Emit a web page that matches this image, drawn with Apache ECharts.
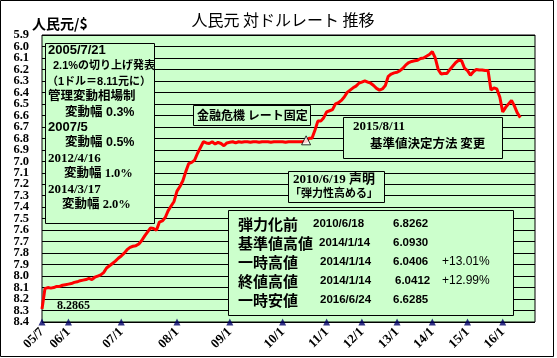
<!DOCTYPE html>
<html><head><meta charset="utf-8">
<script src="https://cdn.jsdelivr.net/npm/echarts@6/dist/echarts.min.js"></script>
<style>html,body{margin:0;padding:0;background:#fff}#c{width:557px;height:358px}</style>
</head><body><div id="c"></div>
<script>
// ---- data ----
const rateEarly = [8.2865,8.11,8.10,8.105,8.10,8.09,8.09,8.08,8.075,8.07,
  8.065,8.055,8.05,8.04,8.035,8.03,8.02,8.03,8.01,8.00,
  7.99,7.97,7.93,7.91,7.89,7.87,7.845,7.825,7.80,7.77,
  7.75,7.74,7.735,7.72,7.69,7.65,7.615,7.58,7.585,7.60,
  7.53,7.52,7.49,7.43,7.39,7.35,7.26,7.22,7.17,7.09,
  7.02,7.01,6.99,6.93,6.88,6.83,
  6.84,6.845,6.83,6.85,6.835,6.845,6.865,6.84,6.835,6.83,
  6.84,6.83,6.835,6.83,6.83,6.835,6.83,6.83,6.835,6.83,
  6.83,6.83,6.835,6.83,6.83,6.83,6.83,6.835,6.83,6.83,
  6.83,6.83,6.83,6.83,
  6.8262];
const rateLate = [6.80,6.80,6.73,6.65,6.65,6.62,6.57,6.56,6.55,6.50,
  6.49,6.47,6.44,6.40,6.38,6.36,6.345,6.32,6.31,6.30,
  6.31,6.32,6.34,6.365,6.38,6.37,6.34,6.26,6.24,6.23,
  6.225,6.21,6.19,6.16,6.14,6.13,6.125,6.12,6.105,6.10,
  6.085,6.07,6.045,6.10,6.20,6.24,6.235,6.235,6.20,6.17,
  6.14,6.12,6.125,6.19,6.21,6.25,6.22,6.20,6.205,6.205,
  6.21,6.21,6.38,6.36,6.37,6.44,6.57,6.53,6.50,6.47,
  6.52,6.58,6.62];
const tickDates = ['2005/7/1','2006/1/1','2007/1/1','2008/1/1','2009/1/1','2010/1/1','2011/1/1','2012/1/1','2013/1/1','2014/1/1','2015/1/1','2016/1/1'];
const tickLabels = ['05/7','06/1','07/1','08/1','09/1','10/1','11/1','12/1','13/1','14/1','15/1','16/1'];
const yMin = 5.9, yMax = 8.4, yStep = 0.1;
const shockDate = '2010/6/19';
const shockValue = 6.8262;
const startLabel = '8.2865';
const titleText = '人民元 対ドルレート 推移';
const unitText = '人民元/$';
const noteLines = ['2005/7/21','2.1%の切り上げ発表','（1ドル＝8.11元に）','管理変動相場制','変動幅 0.3%','2007/5','変動幅 0.5%','2012/4/16','変動幅 1.0%','2014/3/17','変動幅 2.0%'];
const crisisText = '金融危機 レート固定';
const reformLines = ['2015/8/11','基準値決定方法 変更'];
const statementLines = ['2010/6/19 声明','「弾力性高める」'];
const tableLabels = ['弾力化前','基準値高値','一時高値','終値高値','一時安値'];
const tableDates = ['2010/6/18','2014/1/14','2014/1/14','2014/1/14','2016/6/24'];
const tableValues = ['6.8262','6.0930','6.0406','6.0412','6.6285'];
const tablePct = ['','','+13.01%','+12.99%',''];

// ---- categories (sample dates) ----
function fmt(d){return d.getFullYear()+'/'+(d.getMonth()+1)+'/'+d.getDate();}
function parse(s){const p=s.split('/').map(Number);return new Date(p[0],p[1]-1,p[2]);}
const categories = ['2005/7/1'];
for (let k=0;k<89;k++) categories.push(fmt(new Date(2005,6,21+20*k)));
categories.push(shockDate);
for (let m=0;m<78;m++) categories.push(fmt(new Date(2010,6+m,1)));
const rate = rateEarly.concat(rateLate);

const catTimes = categories.map(c=>parse(c).getTime());
const tickIdx = tickDates.map(t=>{
  const tt=parse(t).getTime(); let best=0, bd=Infinity;
  catTimes.forEach((c,i)=>{const d=Math.abs(c-tt); if(d<bd){bd=d;best=i;}});
  return best;
});
const tickMap = new Map(tickIdx.map((i,k)=>[i,tickLabels[k]]));
const shockIdx = categories.indexOf(shockDate);

// ---- layout ----
const CJK = '"Noto Sans CJK JP"';
const SANS = '"Liberation Sans","Noto Sans CJK JP"';
const SERIF = '"Liberation Serif","Noto Sans CJK JP"';
const G = '#ccffcc';
const graphic = [];
function box(x,y,w,h,fill){graphic.push({type:'rect',z:10,shape:{x:x+0.5,y:y+0.5,width:w,height:h},style:{fill:fill,stroke:'#000',lineWidth:1}});}
function txt(t,x,y,font,align){graphic.push({type:'text',z:11,style:{text:t,x:x,y:y,font:font,fill:'#000',textAlign:align||'left',textVerticalAlign:'middle'}});}

box(0,0,553,356,'none');
txt(titleText,283,20,'16px '+CJK,'center');
txt(unitText,32,24,'bold 14px '+CJK);
txt(startLabel,57,306,'bold 12px '+SERIF);

box(45,43,109,180,G);
const noteX=[48,53,47,48,65,48,65,48,64,48,62];
const noteY=[50.7,66,81.5,97,112.5,127.5,143,158.5,174,189.5,205];
const noteF=['bold 13px '+SANS,'bold 11px '+SANS,'bold 11px '+SANS,'bold 12.5px '+SANS,'bold 12.5px '+SANS,'bold 13px '+SANS,'bold 12.5px '+SANS,'bold 13px '+SERIF,'bold 12.5px '+SERIF,'bold 13px '+SERIF,'bold 12.5px '+SERIF];
noteLines.forEach((l,i)=>txt(l,noteX[i],noteY[i],noteF[i]));

box(193,105,117,20,G);
txt(crisisText,197,115,'bold 12px '+CJK);

box(343,117,159,41,G);
txt(reformLines[0],353,127,'bold 13px '+SERIF);
txt(reformLines[1],370,143,'bold 12.5px '+CJK);

box(288,171,96,31,G);
txt(statementLines[0],293,180,'bold 13px '+SERIF);
txt(statementLines[1],290,193,'bold 11px '+CJK);

box(228,210,285,105,G);
const rowY=[224,243,262,281,300];
const dateX=[313,319,320,320,320];
const valX=[393,393,393,395,393];
tableLabels.forEach((l,i)=>{
  txt(l,238,rowY[i],'bold 15px '+CJK);
  txt(tableDates[i],dateX[i],rowY[i],'bold 11.5px '+SANS);
  txt(tableValues[i],valX[i],rowY[i],'bold 11.5px '+SANS);
  if(tablePct[i]) txt(tablePct[i],442,rowY[i],'12px '+SANS);
});

const yLabelStyle = {formatter:(v)=>Number(v).toFixed(1),fontSize:12.5,fontWeight:'bold',color:'#000',margin:13,fontFamily:'"Liberation Serif"'};
const chart = echarts.init(document.getElementById('c'));
chart.setOption({
  animation:false,
  grid:{left:42,top:35,right:22,bottom:36,show:true,backgroundColor:G,borderColor:'#000',borderWidth:1},
  xAxis:{type:'category',data:categories,boundaryGap:false,
    axisLine:{show:false},axisTick:{show:false},splitLine:{show:false},
    axisLabel:{interval:(i)=>tickMap.has(i),formatter:(v,i)=>tickMap.get(i)||'',rotate:45,margin:8,
      fontSize:13,fontWeight:'bold',color:'#000',fontFamily:'"Liberation Serif"'}},
  yAxis:[
    {type:'value',position:'left',inverse:true,min:yMin,max:yMax,interval:yStep,
     axisLine:{show:false},axisTick:{show:false},
     splitLine:{show:true,lineStyle:{color:'#000',width:1}},
     axisLabel:Object.assign({showMinLabel:false,showMaxLabel:false},yLabelStyle)},
    {type:'value',position:'left',inverse:true,min:yMin,max:yMax,
     axisLine:{show:false},axisTick:{show:false},splitLine:{show:false},
     axisLabel:Object.assign({customValues:[yMin,yMax],showMinLabel:true,showMaxLabel:true},yLabelStyle)}
  ],
  series:[
    {type:'line',data:rate,symbol:'none',showSymbol:false,lineStyle:{color:'#ff0000',width:3},z:5,silent:true},
    {type:'scatter',data:tickIdx.map(i=>[i,yMax]),symbol:'triangle',symbolSize:7,itemStyle:{color:'#000066'},clip:false,z:20,silent:true},
    {type:'scatter',data:[[shockIdx,shockValue]],symbol:'triangle',symbolSize:9,symbolOffset:[0,-1],itemStyle:{color:'#fff',borderColor:'#000',borderWidth:1},clip:false,z:21,silent:true}
  ],
  graphic:graphic
});
</script></body></html>
